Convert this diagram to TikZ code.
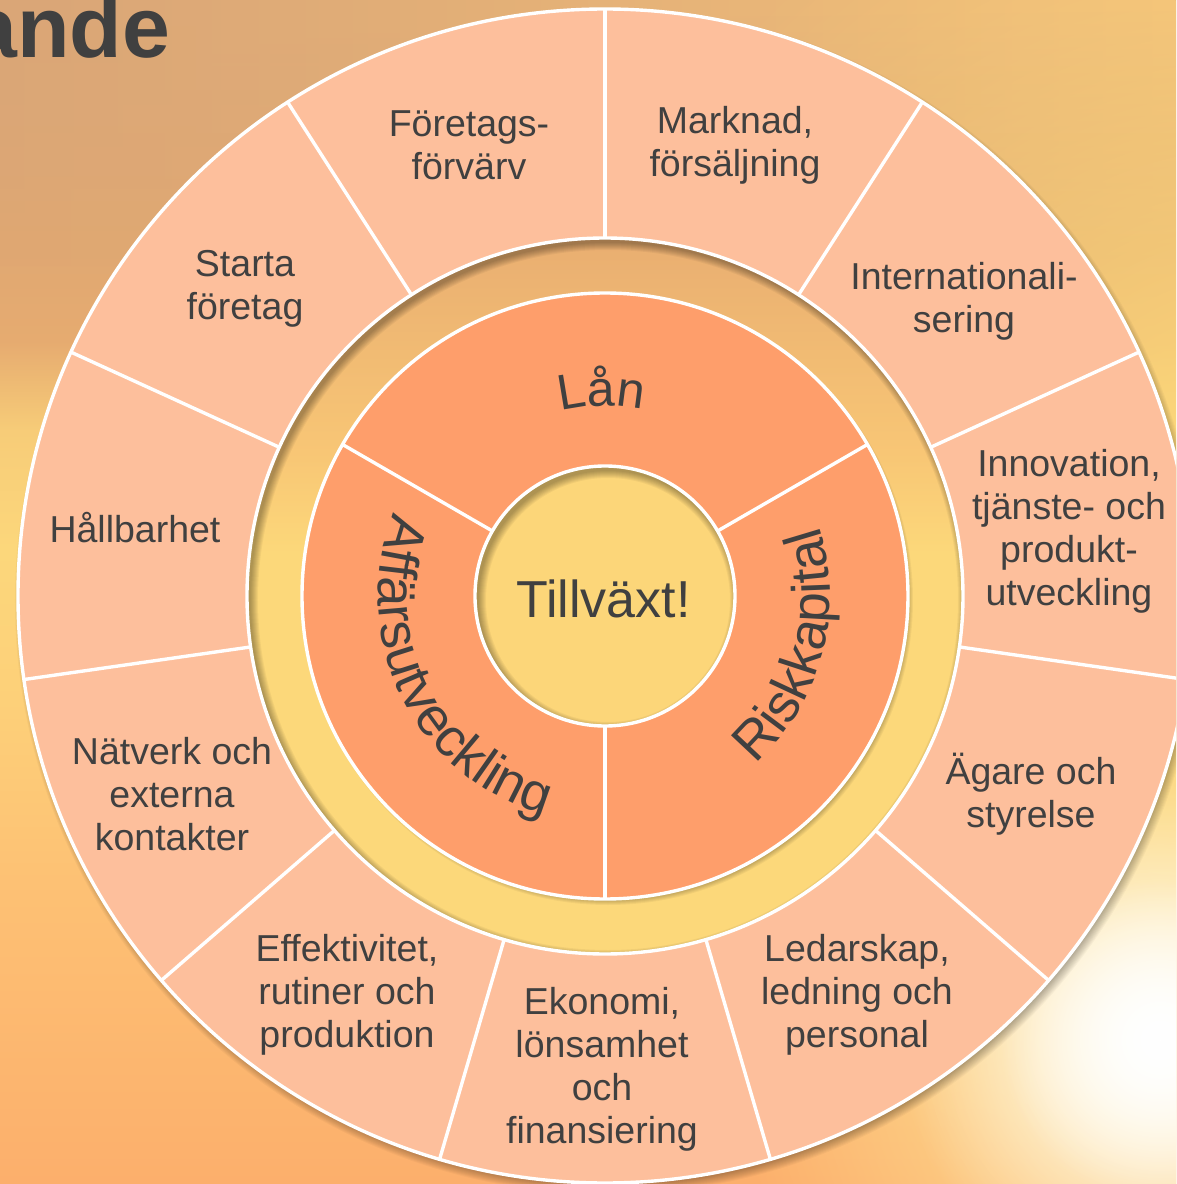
\documentclass[tikz,border=0pt]{standalone}
\usepackage{fontspec}
\setmainfont{Liberation Sans}
\usetikzlibrary{decorations.text,fadings}
\definecolor{txt}{HTML}{404040}
\definecolor{outerfill}{HTML}{FDBF9C}
\definecolor{innerfill}{HTML}{FE9E6B}
\definecolor{ringtan}{HTML}{E9AE71}
\definecolor{ringmid}{HTML}{F8C675}
\definecolor{ringyel}{HTML}{FCD87A}
\definecolor{centyel}{HTML}{FCD679}
\definecolor{bgA}{HTML}{DAA677}
\definecolor{bgA2}{HTML}{E0A872}
\definecolor{bgB}{HTML}{E6AB70}
\definecolor{bgB2}{HTML}{F7CC78}
\definecolor{bgC}{HTML}{FCD77B}
\definecolor{bgD}{HTML}{FDD079}
\definecolor{bgE}{HTML}{FDC174}
\definecolor{bgF}{HTML}{FCAF6C}
\definecolor{bgTR}{HTML}{F2BF7A}
\definecolor{sunhalo}{HTML}{FEE89A}
\pgfdeclareverticalshading{bgshade}{100bp}{color(0bp)=(bgF); color(25bp)=(bgF); color(37.8bp)=(bgE); color(45.4bp)=(bgD); color(51.8bp)=(bgC); color(56.8bp)=(bgB2); color(60.6bp)=(bgB); color(64.4bp)=(bgA2); color(75bp)=(bgA); color(100bp)=(bgA)}
\pgfdeclareverticalshading{ringshade}{100bp}{color(0bp)=(ringyel); color(53bp)=(ringyel); color(60bp)=(ringmid); color(75bp)=(ringtan); color(100bp)=(ringtan)}
\tikzfading[name=topfade, top color=transparent!0, bottom color=transparent!100]
\tikzfading[name=glowfade, inner color=transparent!0, outer color=transparent!100]

\begin{document}
\begin{tikzpicture}[x=1pt,y=1pt,
  wline/.style={white, line width=3.4pt},
  lbl/.style={font=\fontsize{37.5}{43}\selectfont, text=txt, align=center, inner sep=0pt},
  shadowk/.style={black, opacity=0.045}
]
\useasboundingbox (-605,-588) rectangle (571,596);
\clip (-605,-588) rectangle (571,596);

% background
\shade[shading=bgshade] (-605,-588) rectangle (571,596);
\shade[left color=bgA, right color=bgTR, path fading=topfade] (-605,330) rectangle (571,596);
\fill[ringyel, path fading=glowfade] (645,96) circle (700);
\fill[sunhalo, path fading=glowfade] (555,-444) circle (430);
\fill[white, path fading=glowfade] (555,-444) circle (260);
\fill[white, path fading=glowfade] (555,-444) circle (160);

% title fragment
\node[anchor=base west, inner sep=0pt, font=\fontsize{86}{90}\selectfont\bfseries, text=txt] (title) at (-636,538) {ande};

% drop shadow of the wheel
\foreach \k in {0,...,9} \fill[black, opacity=0.03] (3,-5) circle (584+\k);

% ring between outer ring and disc
\shade[shading=ringshade] (0,0) circle (358);
\begin{scope}
  \clip (0,0) circle (358);
  % shadow of orange disc on ring
  \foreach \k in {0,...,7} \fill[shadowk] (3,-4) circle (298+\k);
  % shadow of outer annulus on ring
  \foreach \k in {1,...,8} \fill[shadowk, even odd rule] (3,-4) circle (358-\k) (0,0) circle (420);
\end{scope}

% center circle
\fill[centyel] (0,0) circle (130);
\begin{scope}
  \clip (0,0) circle (130);
  \foreach \k in {1,...,8} \fill[shadowk, even odd rule] (3,-4) circle (130-\k) (0,0) circle (200);
\end{scope}

% orange annulus and outer annulus
\fill[innerfill, even odd rule] (0,0) circle (303) (0,0) circle (130);
\fill[outerfill, even odd rule] (0,0) circle (587) (0,0) circle (358);

% white borders
\foreach \r in {587,358,303,130} \draw[wline] (0,0) circle (\r);
\foreach \a in {0,...,10} \draw[wline] ({90-\a*360/11}:358) -- ({90-\a*360/11}:587);
\foreach \a in {30,150,270} \draw[wline] (\a:130) -- (\a:303);

% outer labels
\node[lbl] (foretagsforvarv) at (-136,451) {Företags-\\förvärv};
\node[lbl] (marknad) at (130,451) {Marknad,\\försäljning};
\node[lbl] (intern) at (359,295) {Internationali-\\sering};
\node[lbl] (innovation) at (464,65) {Innovation,\\tjänste- och\\produkt-\\utveckling};
\node[lbl] (agare) at (426,-198) {Ägare och\\styrelse};
\node[lbl] (ledarskap) at (252,-399) {Ledarskap,\\ledning och\\personal};
\node[lbl] (ekonomi) at (-3,-473) {Ekonomi,\\lönsamhet\\och\\finansiering};
\node[lbl] (effektivitet) at (-258,-399) {Effektivitet,\\rutiner och\\produktion};
\node[lbl] (natverk) at (-433,-198) {Nätverk och\\externa\\kontakter};
\node[lbl] (hallbarhet) at (-470,68) {Hållbarhet};
\node[lbl] (starta) at (-360,307) {Starta\\företag};

% center
\node[font=\fontsize{52}{60}\selectfont, text=txt, inner sep=0pt] (tillvaxt) at (-1.5,-3) {Tillväxt!};

% curved texts
\path[decorate, decoration={text along path, text align=center, text color=txt, text={|\fontsize{50}{60}\selectfont|Lån}}] (115:190) arc[start angle=115, end angle=67, radius=190];
\path[decorate, decoration={text along path, text align=center, text color=txt, text={|\fontsize{54}{60}\selectfont|Riskkapital}}] (-80:225) arc[start angle=-80, end angle=50, radius=225];
\path[decorate, decoration={text along path, text align=center, text color=txt, text={|\fontsize{54}{60}\selectfont|Affärsutveckling}}] (140:227) arc[start angle=140, end angle=273, radius=227];
\end{tikzpicture}
\end{document}
